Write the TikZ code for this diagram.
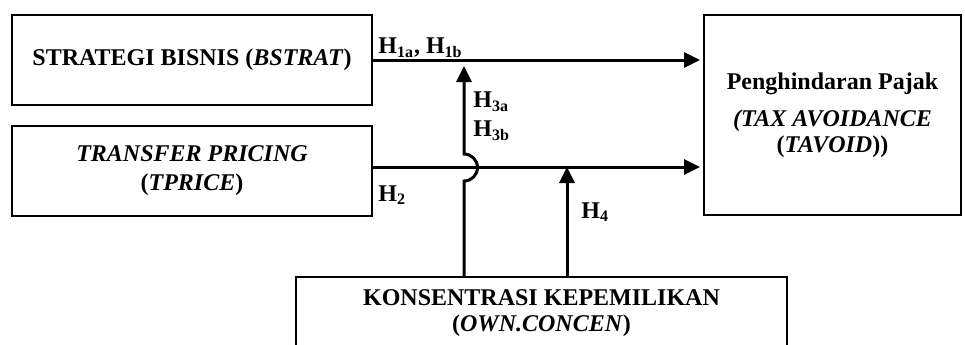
\documentclass[tikz,border=0pt]{standalone}
\usepackage{fontspec}
\setmainfont{Liberation Serif}
\usetikzlibrary{arrows.meta}
\tikzset{
  box/.style={draw, line width=1pt, rectangle, inner sep=0pt, align=center,
    font=\fontsize{12}{14}\selectfont\bfseries},
  lbl/.style={inner sep=0pt, anchor=west, font=\fontsize{12}{14}\selectfont\bfseries},
  conn/.style={line width=1.5pt, -{Triangle[length=8pt,width=7.5pt]}},
}
\begin{document}
\begin{tikzpicture}[x=0.5pt,y=-0.5pt]
\clip (0,0) rectangle (965,344);
\fill[white] (0,0) rectangle (965,344);
% boxes
\node[box, minimum width=180pt, minimum height=45pt] (bstrat) at (192,60)
  {STRATEGI BISNIS (\textit{BSTRAT})};
\node[box, minimum width=180pt, minimum height=45pt,
  font=\fontsize{12}{14.5}\selectfont\bfseries] (tprice) at (192,171)
  {\textit{TRANSFER PRICING}\\(\textit{TPRICE})};
\node[box, minimum width=128.5pt, minimum height=100pt,
  font=\fontsize{12}{13}\selectfont\bfseries] (tavoid) at (832.5,115)
  {Penghindaran Pajak\\[5.5pt]\textit{(TAX AVOIDANCE}\\(\textit{TAVOID}))};
\node[box, minimum width=245.5pt, minimum height=36pt,
  font=\fontsize{12}{13}\selectfont\bfseries] (own) at (541.5,313)
  {KONSENTRASI KEPEMILIKAN\\(\textit{OWN.CONCEN})};
% helper coordinates for vertical connectors
\coordinate (j3) at (464,0);
\coordinate (j4) at (567,0);
\coordinate (l2) at (0,167);
% main arrows
\draw[conn, shorten >=1.5pt] (bstrat.east) -- (bstrat.east -| tavoid.west);
\draw[conn, shorten >=1.5pt] (tprice.east |- l2) -- (tavoid.west |- l2);
% moderation arrows
\draw[conn, shorten >=3pt] (own.north -| j3) -- (464,181)
  arc[start angle=90, end angle=-90, radius=13.5] -- (j3 |- bstrat.east);
\draw[conn] (own.north -| j4) -- (j4 |- l2);
% labels
\node[lbl] (h1) at (378,48) {H\textsubscript{1a}, H\textsubscript{1b}};
\node[lbl] (h2) at (378,195) {H\textsubscript{2}};
\node[lbl] (h3a) at (473,102) {H\textsubscript{3a}};
\node[lbl] (h3b) at (473,131) {H\textsubscript{3b}};
\node[lbl] (h4) at (581,212) {H\textsubscript{4}};
\end{tikzpicture}
\end{document}
